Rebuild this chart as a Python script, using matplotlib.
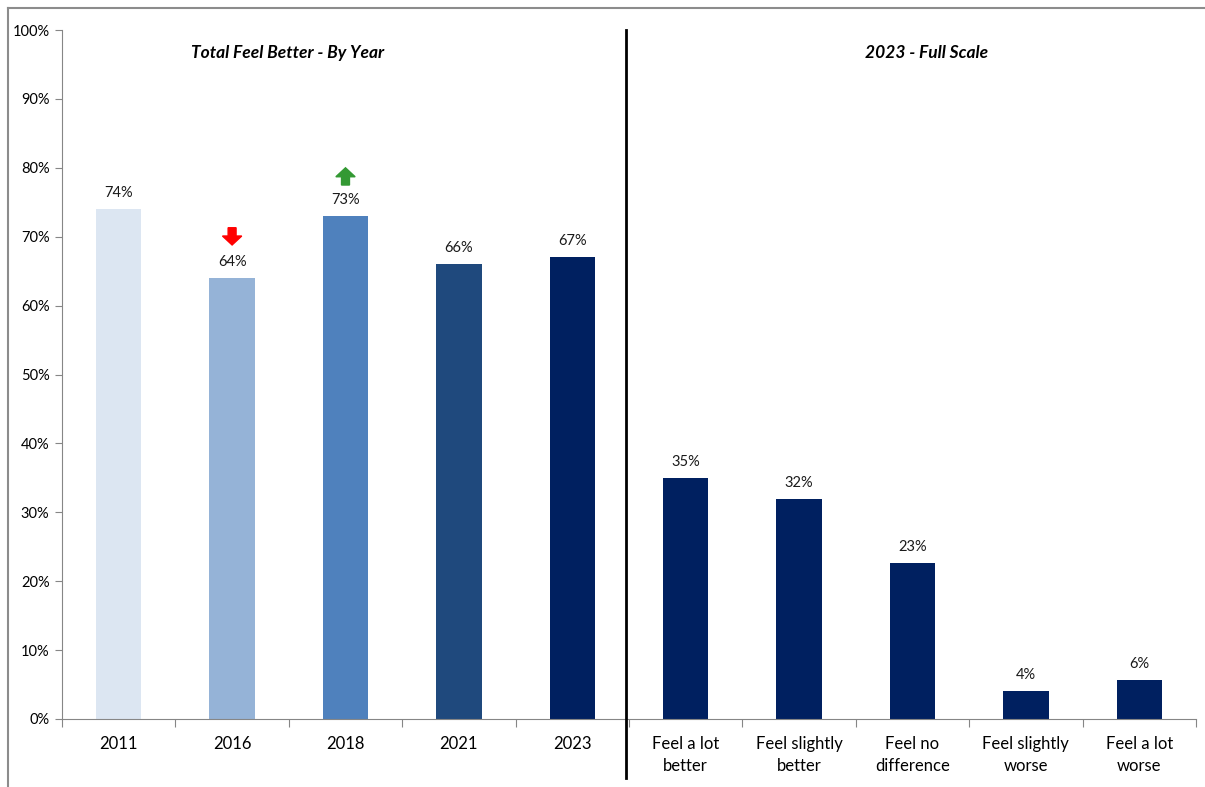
import matplotlib.pyplot as plt
from matplotlib.patches import FancyArrow
from matplotlib.lines import Line2D

plt.rcParams['font.family'] = ['Lato', 'DejaVu Sans']

categories = ['2011', '2016', '2018', '2021', '2023',
              'Feel a lot\nbetter', 'Feel slightly\nbetter', 'Feel no\ndifference',
              'Feel slightly\nworse', 'Feel a lot\nworse']
values = [0.74, 0.64, 0.73, 0.66, 0.67, 0.35, 0.32, 0.227, 0.04, 0.057]
labels = ['74%', '64%', '73%', '66%', '67%', '35%', '32%', '23%', '4%', '6%']
colors = ['#DCE6F2', '#95B3D7', '#4F81BD', '#1F497D', '#002060',
          '#002060', '#002060', '#002060', '#002060', '#002060']

fig = plt.figure(figsize=(12.05, 7.87), dpi=100)
ax = fig.add_axes([62 / 1205, 1 - 719 / 787, (1196 - 62) / 1205, (719 - 30) / 787])

x = list(range(len(categories)))
ax.bar(x, values, width=0.4, color=colors, zorder=2)

for xi, v, lab in zip(x, values, labels):
    ax.text(xi, v + 0.013, lab, ha='center', va='bottom', fontsize=10.5, color='#1a1a1a')

ax.set_xlim(-0.5, 9.5)
ax.set_ylim(0, 1.0)
ax.set_yticks([i / 10 for i in range(11)])
ax.set_yticklabels([f'{i * 10}%' for i in range(11)], fontsize=10.5)

# x ticks at category boundaries, labels at centers
ax.set_xticks([i - 0.5 for i in range(11)])
ax.set_xticklabels([])
ax.set_xticks(x, minor=True)
ax.set_xticklabels(categories, minor=True, fontsize=12, linespacing=1.45)
ax.tick_params(axis='x', which='minor', length=0, pad=12)
ax.tick_params(axis='x', which='major', length=6, color='#868686', direction='out')
ax.tick_params(axis='y', length=5, color='#868686', direction='out', pad=4)

for s in ['top', 'right']:
    ax.spines[s].set_visible(False)
ax.spines['left'].set_color('#868686')
ax.spines['bottom'].set_color('#868686')

# divider between the two panels
ax.plot([4.47, 4.47], [1.0, -0.085], color='black', lw=2, clip_on=False, zorder=3)

ax.text(1.49, 0.966, 'Total Feel Better - By Year', ha='center', va='center',
        fontsize=12.5, fontweight='bold', fontstyle='italic')
ax.text(7.12, 0.966, '2023 - Full Scale', ha='center', va='center',
        fontsize=12.5, fontweight='bold', fontstyle='italic')

# change arrows
ax.add_patch(FancyArrow(1, 0.713, 0, -0.012, width=0.07, head_width=0.17,
                        head_length=0.013, color='#FF0000', length_includes_head=False, zorder=3))
ax.add_patch(FancyArrow(2, 0.775, 0, 0.012, width=0.07, head_width=0.17,
                        head_length=0.013, color='#339933', length_includes_head=False, zorder=3))

# outer frame lines (top and left)
fig.add_artist(Line2D([8 / 1205, 1], [1 - 8 / 787, 1 - 8 / 787], color='#8c8c8c', lw=1.5))
fig.add_artist(Line2D([8 / 1205, 8 / 1205], [0, 1 - 8 / 787], color='#8c8c8c', lw=1.5))

fig.savefig('out.png', dpi=100)
